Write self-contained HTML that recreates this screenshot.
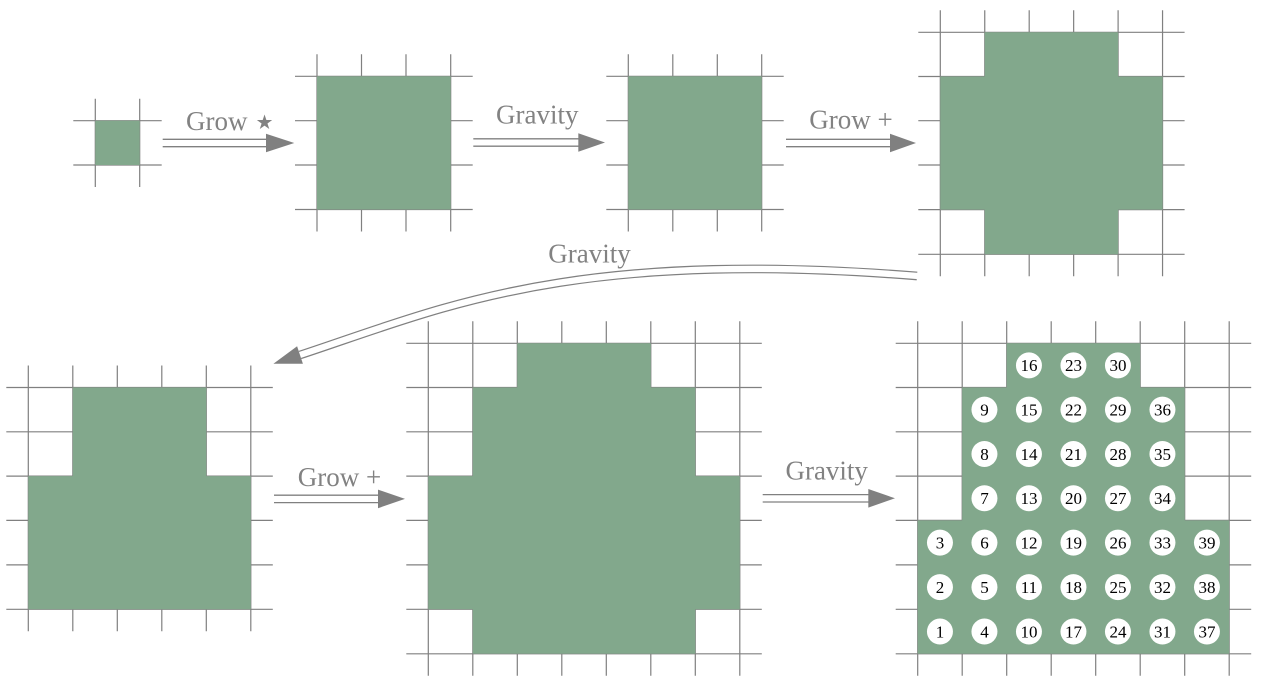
<!DOCTYPE html>
<html>
<head>
<meta charset="utf-8">
<style>
  html, body { margin: 0; padding: 0; background: #ffffff; }
  svg { display: block; }
  .lbl { font-family: "Liberation Serif", "DejaVu Serif", serif; font-size: 27px; fill: #828282; }
  .num { font-family: "Liberation Serif", "DejaVu Serif", serif; font-size: 17px; fill: #000000; text-anchor: middle; }
</style>
</head>
<body>
<svg width="1265" height="692" viewBox="0 0 1265 692" xmlns="http://www.w3.org/2000/svg">
  <rect x="0" y="0" width="1265" height="692" fill="#ffffff"/>

  <!-- grids -->
  <g stroke="#808080" stroke-width="1.2" fill="none">
    <!-- D1 -->
    <path d="M73.3 120.7H161.7 M73.3 165H161.7 M95.3 98.7V187 M139.7 98.7V187"/>
    <!-- D2 -->
    <path d="M295 76.3H472.7 M295 120.7H472.7 M295 165H472.7 M295 209.5H472.7
             M317 54.3V231.5 M361.5 54.3V231.5 M406 54.3V231.5 M450.7 54.3V231.5"/>
    <!-- D3 -->
    <path d="M606.3 76.3H783.7 M606.3 120.7H783.7 M606.3 165H783.7 M606.3 209.5H783.7
             M628.3 54.3V231.5 M672.8 54.3V231.5 M717.3 54.3V231.5 M761.7 54.3V231.5"/>
    <!-- D4 -->
    <path d="M918.3 32.3H1184.6 M918.3 76.5H1184.6 M918.3 120.7H1184.6 M918.3 165H1184.6 M918.3 209.6H1184.6 M918.3 254.3H1184.6
             M940.3 10.3V276.3 M984.75 10.3V276.3 M1029.2 10.3V276.3 M1073.65 10.3V276.3 M1118.1 10.3V276.3 M1162.55 10.3V276.3"/>
    <!-- D5 -->
    <path d="M6.3 387.5H272.8 M6.3 431.8H272.8 M6.3 476.1H272.8 M6.3 520.4H272.8 M6.3 564.9H272.8 M6.3 609.3H272.8
             M28.3 365.5V631.3 M72.8 365.5V631.3 M117.3 365.5V631.3 M161.8 365.5V631.3 M206.3 365.5V631.3 M250.8 365.5V631.3"/>
    <!-- D6 -->
    <path d="M406.3 343.3H761.8 M406.3 387.5H761.8 M406.3 431.8H761.8 M406.3 476.1H761.8 M406.3 520.4H761.8 M406.3 564.9H761.8 M406.3 609.3H761.8 M406.3 653.8H761.8
             M428.3 321.3V675.8 M472.8 321.3V675.8 M517.3 321.3V675.8 M561.8 321.3V675.8 M606.3 321.3V675.8 M650.8 321.3V675.8 M695.3 321.3V675.8 M739.8 321.3V675.8"/>
    <!-- D7 -->
    <path d="M895.7 343.3H1251.2 M895.7 387.5H1251.2 M895.7 431.8H1251.2 M895.7 476.1H1251.2 M895.7 520.4H1251.2 M895.7 564.9H1251.2 M895.7 609.3H1251.2 M895.7 653.8H1251.2
             M917.7 321.3V675.8 M962.2 321.3V675.8 M1006.7 321.3V675.8 M1051.2 321.3V675.8 M1095.7 321.3V675.8 M1140.2 321.3V675.8 M1184.7 321.3V675.8 M1229.2 321.3V675.8"/>
  </g>

  <!-- green shapes -->
  <g fill="#82a88c">
    <rect x="95.3" y="120.7" width="44.4" height="44.3"/>
    <rect x="317" y="76.3" width="133.7" height="133.2"/>
    <rect x="628.3" y="76.3" width="133.4" height="133.2"/>
    <polygon points="984.75,32.3 1118.1,32.3 1118.1,76.5 1162.55,76.5 1162.55,209.6 1118.1,209.6 1118.1,254.3 984.75,254.3 984.75,209.6 940.3,209.6 940.3,76.5 984.75,76.5"/>
    <polygon points="72.8,387.5 206.3,387.5 206.3,476.1 250.8,476.1 250.8,609.3 28.3,609.3 28.3,476.1 72.8,476.1"/>
    <polygon points="517.3,343.3 650.8,343.3 650.8,387.5 695.3,387.5 695.3,476.1 739.8,476.1 739.8,609.3 695.3,609.3 695.3,653.8 472.8,653.8 472.8,609.3 428.3,609.3 428.3,476.1 472.8,476.1 472.8,387.5 517.3,387.5"/>
    <polygon points="1006.7,343.3 1140.2,343.3 1140.2,387.5 1184.7,387.5 1184.7,520.4 1229.2,520.4 1229.2,653.8 917.7,653.8 917.7,520.4 962.2,520.4 962.2,387.5 1006.7,387.5"/>
  </g>

  <!-- straight double arrows -->
  <g stroke="#808080" stroke-width="1.3" fill="none">
    <path d="M162.7 139.3H267 M162.7 146.7H267"/>
    <path d="M473.3 138.8H579 M473.3 146.2H579"/>
    <path d="M786 139.3H891 M786 146.7H891"/>
    <path d="M274 495.2H379 M274 502.6H379"/>
    <path d="M762.7 494.6H869 M762.7 502H869"/>
  </g>
  <g fill="#808080">
    <polygon points="266,133.7 294.3,143 266,152.3"/>
    <polygon points="578.3,133.2 605,142.5 578.3,151.8"/>
    <polygon points="890,133.7 916,143 890,152.3"/>
    <polygon points="378,489.6 405,498.9 378,508.2"/>
    <polygon points="868.3,489 895,498.3 868.3,507.6"/>
  </g>

  <!-- curved double arrow -->
  <path d="M917 276 C567 248 440 309 300 355" fill="none" stroke="#808080" stroke-width="8.7"/>
  <path d="M918 276 C567 248 440 309 299 355.3" fill="none" stroke="#ffffff" stroke-width="6.3"/>
  <polygon points="273.4,363.7 302.9,363.8 297.1,346.2" fill="#808080"/>

  <!-- labels -->
  <text class="lbl" x="186" y="130">Grow</text>
  <text x="264.5" y="135" text-anchor="middle" style="font-family:'DejaVu Sans',sans-serif;font-size:40px;fill:#828282;">⋆</text>
  <text class="lbl" x="537.3" y="123.3" text-anchor="middle">Gravity</text>
  <text class="lbl" x="851" y="128.5" text-anchor="middle">Grow +</text>
  <text class="lbl" x="589.5" y="262.7" text-anchor="middle">Gravity</text>
  <text class="lbl" x="339.5" y="486" text-anchor="middle">Grow +</text>
  <text class="lbl" x="826.7" y="479.3" text-anchor="middle">Gravity</text>

  <!-- numbered circles -->
  <g fill="#ffffff">
    <circle cx="939.95" cy="631.55" r="13"/><circle cx="939.95" cy="587.1" r="13"/><circle cx="939.95" cy="542.65" r="13"/>
    <circle cx="984.45" cy="631.55" r="13"/><circle cx="984.45" cy="587.1" r="13"/><circle cx="984.45" cy="542.65" r="13"/><circle cx="984.45" cy="498.25" r="13"/><circle cx="984.45" cy="453.95" r="13"/><circle cx="984.45" cy="409.65" r="13"/>
    <circle cx="1028.95" cy="631.55" r="13"/><circle cx="1028.95" cy="587.1" r="13"/><circle cx="1028.95" cy="542.65" r="13"/><circle cx="1028.95" cy="498.25" r="13"/><circle cx="1028.95" cy="453.95" r="13"/><circle cx="1028.95" cy="409.65" r="13"/><circle cx="1028.95" cy="365.4" r="13"/>
    <circle cx="1073.45" cy="631.55" r="13"/><circle cx="1073.45" cy="587.1" r="13"/><circle cx="1073.45" cy="542.65" r="13"/><circle cx="1073.45" cy="498.25" r="13"/><circle cx="1073.45" cy="453.95" r="13"/><circle cx="1073.45" cy="409.65" r="13"/><circle cx="1073.45" cy="365.4" r="13"/>
    <circle cx="1117.95" cy="631.55" r="13"/><circle cx="1117.95" cy="587.1" r="13"/><circle cx="1117.95" cy="542.65" r="13"/><circle cx="1117.95" cy="498.25" r="13"/><circle cx="1117.95" cy="453.95" r="13"/><circle cx="1117.95" cy="409.65" r="13"/><circle cx="1117.95" cy="365.4" r="13"/>
    <circle cx="1162.45" cy="631.55" r="13"/><circle cx="1162.45" cy="587.1" r="13"/><circle cx="1162.45" cy="542.65" r="13"/><circle cx="1162.45" cy="498.25" r="13"/><circle cx="1162.45" cy="453.95" r="13"/><circle cx="1162.45" cy="409.65" r="13"/>
    <circle cx="1206.95" cy="631.55" r="13"/><circle cx="1206.95" cy="587.1" r="13"/><circle cx="1206.95" cy="542.65" r="13"/>
  </g>
  <g class="num">
    <text x="939.95" y="637.4">1</text><text x="939.95" y="592.9">2</text><text x="939.95" y="548.5">3</text>
    <text x="984.45" y="637.4">4</text><text x="984.45" y="592.9">5</text><text x="984.45" y="548.5">6</text><text x="984.45" y="504.1">7</text><text x="984.45" y="459.8">8</text><text x="984.45" y="415.5">9</text>
    <text x="1028.95" y="637.4">10</text><text x="1028.95" y="592.9">11</text><text x="1028.95" y="548.5">12</text><text x="1028.95" y="504.1">13</text><text x="1028.95" y="459.8">14</text><text x="1028.95" y="415.5">15</text><text x="1028.95" y="371.2">16</text>
    <text x="1073.45" y="637.4">17</text><text x="1073.45" y="592.9">18</text><text x="1073.45" y="548.5">19</text><text x="1073.45" y="504.1">20</text><text x="1073.45" y="459.8">21</text><text x="1073.45" y="415.5">22</text><text x="1073.45" y="371.2">23</text>
    <text x="1117.95" y="637.4">24</text><text x="1117.95" y="592.9">25</text><text x="1117.95" y="548.5">26</text><text x="1117.95" y="504.1">27</text><text x="1117.95" y="459.8">28</text><text x="1117.95" y="415.5">29</text><text x="1117.95" y="371.2">30</text>
    <text x="1162.45" y="637.4">31</text><text x="1162.45" y="592.9">32</text><text x="1162.45" y="548.5">33</text><text x="1162.45" y="504.1">34</text><text x="1162.45" y="459.8">35</text><text x="1162.45" y="415.5">36</text>
    <text x="1206.95" y="637.4">37</text><text x="1206.95" y="592.9">38</text><text x="1206.95" y="548.5">39</text>
  </g>
</svg>
</body>
</html>
